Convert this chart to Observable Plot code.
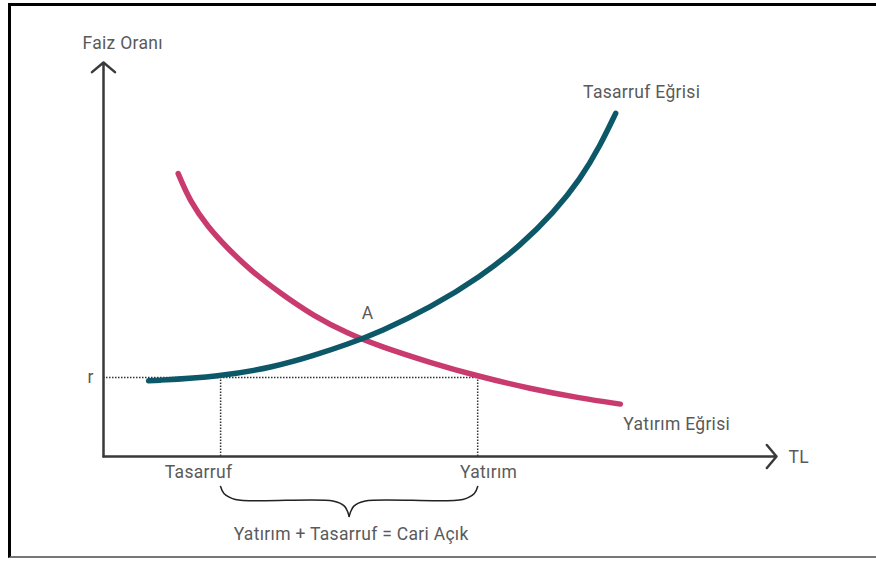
<!DOCTYPE html>
<html>
<head>
<meta charset="utf-8">
<script src="https://cdn.jsdelivr.net/npm/d3@7"></script>
<script src="https://cdn.jsdelivr.net/npm/@observablehq/plot@0.6"></script>
<style>
  html, body { margin: 0; padding: 0; background: #fff; }
  #wrap { position: relative; width: 876px; height: 562px; overflow: hidden; }
  #frame { position: absolute; left: 8px; top: 3px; width: 868px; height: 555px;
           border-left: 3px solid #000; border-top: 3px solid #000; border-bottom: 2px solid #777;
           box-sizing: border-box; pointer-events: none; }
</style>
</head>
<body>
<div id="wrap"><div id="frame"></div></div>
<script>
// Savings curve (Tasarruf Eğrisi): x = TL, y = faiz oranı (arbitrary units 0–100)
const savingsX = [6.7, 17.4, 25.3, 31.2, 36.3, 41.2, 48.6, 56.0, 62.0, 66.9, 70.9, 73.8, 76.1];
const savingsY = [19.2, 20.3, 22.7, 25.6, 28.5, 31.7, 37.8, 45.6, 53.6, 61.9, 70.5, 78.9, 87.1];
// Investment curve (Yatırım Eğrisi)
const investX = [11.1, 12.9, 15.5, 18.4, 21.8, 26.3, 31.2, 36.3, 41.2, 48.6, 55.6, 63.4, 70.9, 76.8];
const investY = [71.8, 64.6, 58.3, 52.9, 47.3, 41.4, 35.7, 31.2, 27.9, 23.8, 20.4, 17.2, 14.8, 13.3];
// Reference levels
const rLevel = 20.05;
const tasarrufX = 17.4;
const yatirimX = 55.6;
const pointA = {x: 38.8, y: 30.2};

const savings = savingsX.map((x, i) => ({x, y: savingsY[i]}));
const invest = investX.map((x, i) => ({x, y: investY[i]}));

// brace between Tasarruf and Yatırım (below axis)
const mid = (tasarrufX + yatirimX) / 2;
const braceTop = -7.6, braceBar = -11.0, braceTip = -15.2;
const brace = [
  {x: tasarrufX, y: braceTop, s: "L"}, {x: tasarrufX + 0.5, y: braceBar + 1.6, s: "L"},
  {x: tasarrufX + 2.2, y: braceBar + 0.1, s: "L"}, {x: mid - 2.4, y: braceBar - 0.3, s: "L"},
  {x: mid - 0.7, y: braceBar - 1.6, s: "L"}, {x: mid, y: braceTip, s: "L"},
  {x: yatirimX, y: braceTop, s: "R"}, {x: yatirimX - 0.5, y: braceBar + 1.6, s: "R"},
  {x: yatirimX - 2.2, y: braceBar + 0.1, s: "R"}, {x: mid + 2.4, y: braceBar - 0.3, s: "R"},
  {x: mid + 0.7, y: braceBar - 1.6, s: "R"}, {x: mid, y: braceTip, s: "R"}
];

const font = "Roboto, 'Noto Sans', sans-serif";
const txt = "#5a5a5a";
const fs = 17.5;
const ls = "0.3px";

const chart = Plot.plot({
  width: 876,
  height: 562,
  margin: 0,
  style: {fontFamily: font, background: "transparent", letterSpacing: ls},
  x: {domain: [0, 100], range: [103, 776], axis: null},
  y: {domain: [0, 100], range: [456, 62], axis: null},
  marks: [
    // dotted guides
    Plot.ruleY([rLevel], {x1: 0, x2: yatirimX, stroke: "#333", strokeWidth: 1.5, strokeDasharray: "1.5,1.5"}),
    Plot.ruleX([tasarrufX, yatirimX], {y1: 0, y2: rLevel, stroke: "#333", strokeWidth: 1.5, strokeDasharray: "1.5,1.5"}),
    // axes with arrows
    Plot.arrow([{x1: 0, y1: 0, x2: 0, y2: 100}, {x1: 0, y1: 0, x2: 100, y2: 0}],
      {x1: "x1", y1: "y1", x2: "x2", y2: "y2", stroke: "#3a3a3a", strokeWidth: 2.5, headAngle: 100, headLength: 9}),
    // curves
    Plot.line(invest, {x: "x", y: "y", curve: "basis", stroke: "#c93a6f", strokeWidth: 5.5}),
    Plot.line(savings, {x: "x", y: "y", curve: "basis", stroke: "#0d5868", strokeWidth: 5.5}),
    // brace
    Plot.line(brace, {x: "x", y: "y", z: "s", curve: "catmull-rom", stroke: "#222", strokeWidth: 1.5}),
    // labels
    Plot.text(["Faiz Oranı"], {x: 0, y: 100, dx: -21, dy: -19, textAnchor: "start", fill: txt, fontSize: fs}),
    Plot.text(["TL"], {x: 100, y: 0, dx: 12, dy: 1, textAnchor: "start", fill: txt, fontSize: fs}),
    Plot.text(["r"], {x: 0, y: rLevel, dx: -16, textAnchor: "start", fill: txt, fontSize: fs}),
    Plot.text(["Tasarruf"], {x: tasarrufX, y: 0, dx: -22, dy: 16, fill: txt, fontSize: fs}),
    Plot.text(["Yatırım"], {x: yatirimX, y: 0, dx: 11, dy: 16, fill: txt, fontSize: fs}),
    Plot.text(["A"], {x: pointA.x, y: pointA.y, dx: 3, dy: -24, fill: txt, fontSize: fs}),
    Plot.text(["Tasarruf Eğrisi"], {x: savingsX[savingsX.length - 1], y: savingsY[savingsY.length - 1], dx: 26, dy: -21, fill: txt, fontSize: fs}),
    Plot.text(["Yatırım Eğrisi"], {x: investX[investX.length - 1], y: investY[investY.length - 1], dx: 3, dy: 20, textAnchor: "start", fill: txt, fontSize: fs}),
    Plot.text(["Yatırım + Tasarruf = Cari Açık"], {x: mid, y: braceTip, dx: 2, dy: 18, fill: txt, fontSize: fs})
  ]
});
document.getElementById("wrap").prepend(chart);
</script>
</body>
</html>
